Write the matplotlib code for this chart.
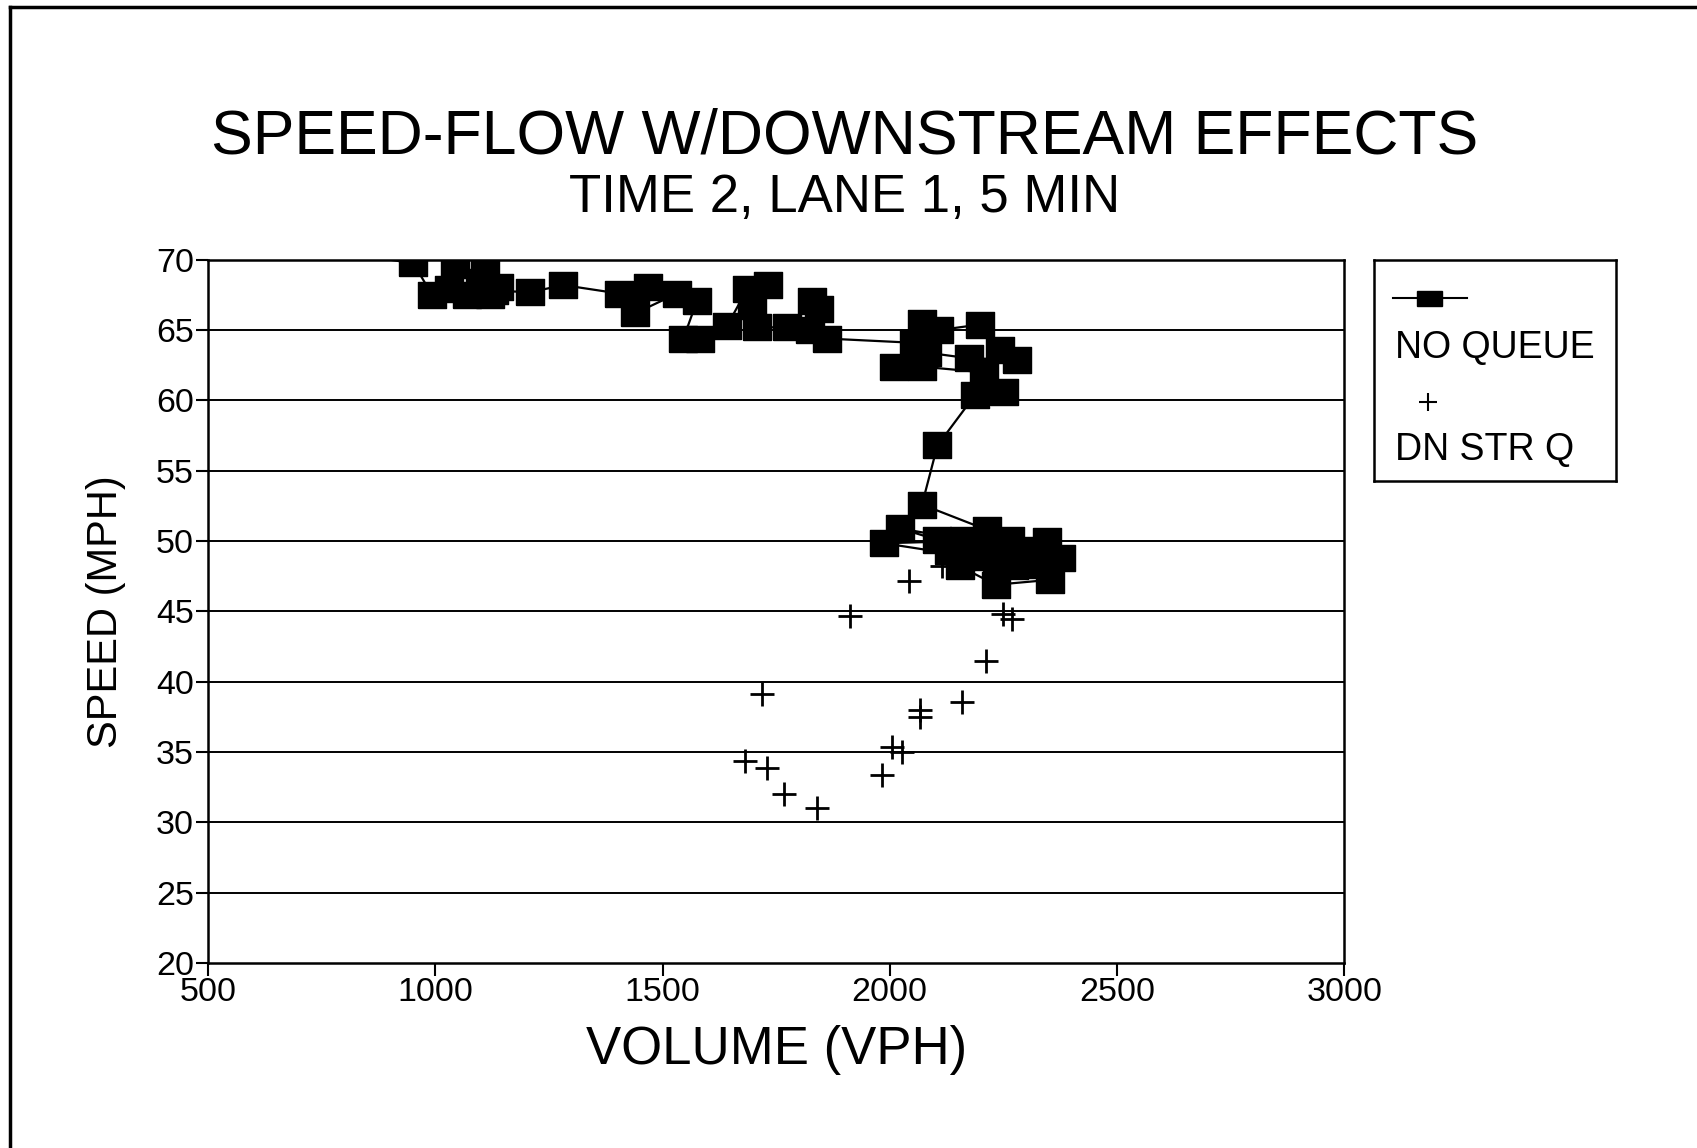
import matplotlib
matplotlib.use("Agg")
import matplotlib.pyplot as plt
from matplotlib.lines import Line2D
from matplotlib.patches import Rectangle

plt.rcParams['font.family'] = ['Liberation Sans', 'DejaVu Sans']

# NO QUEUE series (volume vph, speed mph), in drawing order
nq_volume = [700, 952, 993, 1044, 1030, 1070, 1110, 1099, 1140, 1120, 1130,
             1209, 1282, 1405, 1469, 1440, 1532, 1576, 1546, 1583, 1642,
             1686, 1733, 1697, 1708, 1774, 1829, 1845, 1825, 1862,
             2053, 2071, 2108, 2199, 2243, 2280, 2174, 2082, 2009, 2071,
             2207, 2251, 2188, 2105, 2071, 2214, 2104, 2023, 2163, 2265,
             1987, 2177, 2346, 2310, 2198, 2250, 2130, 2236, 2290, 2376,
             2330, 2273, 2155, 2233, 2353]
nq_speed = [71.0, 69.75, 67.5, 69.6, 67.9, 67.5, 69.9, 68.4, 68.1, 67.5, 67.8,
            67.7, 68.2, 67.6, 68.1, 66.2, 67.6, 67.1, 64.4, 64.4, 65.3,
            67.9, 68.2, 66.7, 65.2, 65.2, 67.1, 66.5, 65.0, 64.4,
            64.1, 65.5, 65.0, 65.4, 63.6, 62.9, 63.0, 63.4, 62.4, 62.4,
            62.0, 60.6, 60.4, 56.8, 52.6, 50.8, 50.1, 50.9, 50.1, 50.1,
            49.85, 48.9, 50.0, 49.4, 49.5, 49.8, 49.3, 48.5, 49.0, 48.8,
            48.3, 48.2, 48.2, 46.9, 47.25]

# DN STR Q series
dq_volume = [2115, 2043, 1913, 2249, 2269, 2212, 1719, 2160, 2066, 2066,
             2005, 2028, 1682, 1731, 1983, 1768, 1840]
dq_speed = [48.2, 47.2, 44.7, 44.8, 44.5, 41.5, 39.1, 38.6, 38.0, 37.5,
            35.4, 35.0, 34.4, 33.9, 33.4, 32.0, 31.0]

x_ticks = [500, 1000, 1500, 2000, 2500, 3000]
y_ticks = [20, 25, 30, 35, 40, 45, 50, 55, 60, 65, 70]

# slightly wide square, like the printed marker
box = [(-1.1, -1), (1.1, -1), (1.1, 1), (-1.1, 1), (-1.1, -1)]

fig = plt.figure(figsize=(16.97, 11.48), dpi=100)
ax = fig.add_axes([0.1226, 0.161, 0.6695, 0.6127])

ax.plot(nq_volume, nq_speed, color='black', linewidth=1.6, marker=box,
        markersize=20, markerfacecolor='black', markeredgecolor='black',
        zorder=3)
ax.plot(dq_volume, dq_speed, linestyle='none', marker='+', markersize=17,
        markeredgewidth=2.0, color='black', zorder=3)

ax.set_xlim(500, 3000)
ax.set_ylim(20, 70)
ax.set_xticks(x_ticks)
ax.set_yticks(y_ticks)
for y in y_ticks[1:]:
    ax.axhline(y, color='black', linewidth=1.4, zorder=1)
for s in ax.spines.values():
    s.set_linewidth(1.8)
ax.tick_params(axis='both', direction='out', length=9, width=1.5,
               labelsize=24.5, pad=1)

ax.set_xlabel('VOLUME (VPH)', fontsize=38, labelpad=12)
ax.set_ylabel('SPEED (MPH)', fontsize=30, labelpad=22)

fig.text(0.4975, 0.866, 'SPEED-FLOW W/DOWNSTREAM EFFECTS', ha='center',
         va='baseline', fontsize=45)
fig.text(0.4975, 0.815, 'TIME 2, LANE 1, 5 MIN', ha='center',
         va='baseline', fontsize=38)

# legend box, label under each symbol
lg = fig.add_axes([0.8097, 0.581, 0.1426, 0.1925])
lg.set_xlim(0, 1)
lg.set_ylim(0, 1)
lg.set_xticks([])
lg.set_yticks([])
for s in lg.spines.values():
    s.set_linewidth(1.8)
lg.plot([0.08, 0.385], [0.827, 0.827], color='black', linewidth=1.5)
lg.add_patch(Rectangle((0.178, 0.793), 0.103, 0.068, color='black'))
lg.text(0.085, 0.558, 'NO QUEUE', fontsize=27, va='baseline')
lg.plot([0.222], [0.357], marker='+', markersize=13, markeredgewidth=1.5,
        color='black')
lg.text(0.085, 0.095, 'DN STR Q', fontsize=27, va='baseline')

# page frame (top and left edges)
fig.add_artist(Line2D([0.006, 0.006], [0.0, 0.994], color='black',
                      linewidth=2.5))
fig.add_artist(Line2D([0.006, 1.0], [0.994, 0.994], color='black',
                      linewidth=2.5))

fig.savefig('out.png', dpi=100)
